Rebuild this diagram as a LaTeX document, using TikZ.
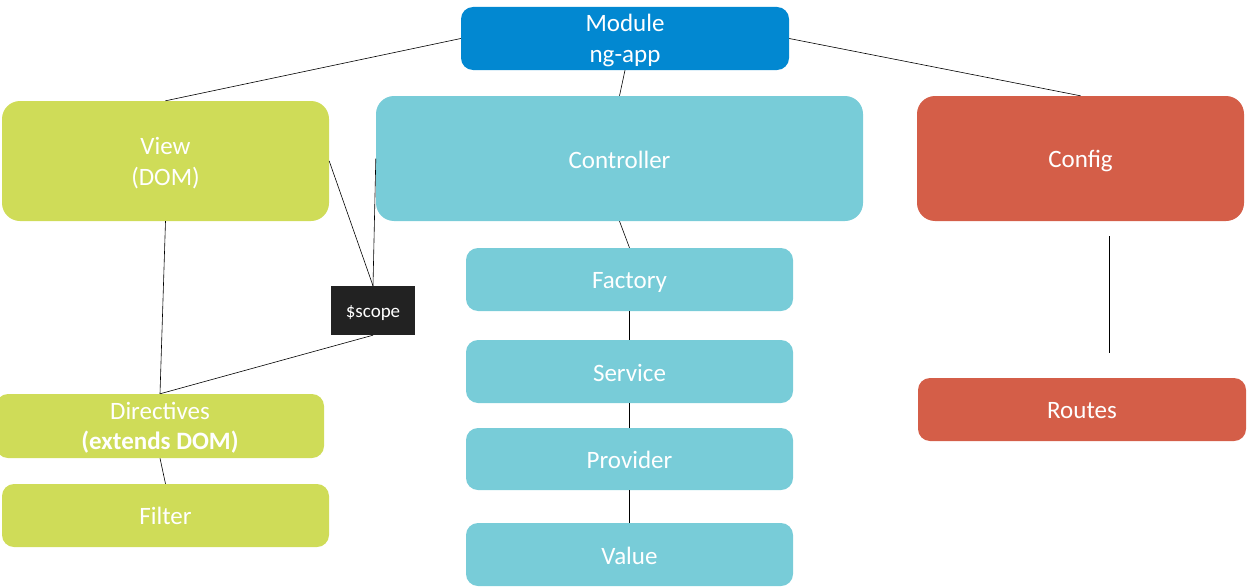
\documentclass[tikz,border=0pt]{standalone}
\usepackage{fontspec}
\setmainfont{Carlito}
\definecolor{modblue}{HTML}{0288D1}
\definecolor{vgreen}{HTML}{CFDC58}
\definecolor{cteal}{HTML}{78CCD8}
\definecolor{cred}{HTML}{D45E48}
\definecolor{sdark}{HTML}{222222}
\newcommand\lowr[2][2pt]{\raisebox{-#1}[\height][\depth]{#2}}
\begin{document}
\begin{tikzpicture}[x=1pt,y=-1pt,
  box/.style={rectangle,rounded corners=#1,inner sep=0pt,text=white,align=center,
    font=\fontsize{25}{31}\selectfont},
  box/.default=12pt,
  conn/.style={draw=black,line width=0.6pt}]
\useasboundingbox (0,0) rectangle (1252,586);
\begin{scope}
\clip (0,0) rectangle (1252,586);
\node[box, fill=modblue, minimum width=328pt, minimum height=63pt] (module) at (625,38.5) {\lowr{Module}\\\lowr{ng-app}};
\node[box=18pt, fill=vgreen, minimum width=327pt, minimum height=120pt] (view) at (165.5,161) {\lowr{View}\\\lowr{(DOM)}};
\node[box=18pt, fill=cteal, minimum width=487pt, minimum height=125pt] (ctrl) at (619.5,158.5) {\lowr[1.5pt]{Controller}};
\node[box=18pt, fill=cred, minimum width=327pt, minimum height=125pt] (config) at (1080.5,158.5) {\lowr[2.5pt]{Config}};
\node[box, fill=cteal, minimum width=327pt, minimum height=63pt] (factory) at (629.5,279.5) {\lowr[3pt]{Factory}};
\node[box, fill=cteal, minimum width=327pt, minimum height=63pt] (service) at (629.5,371.5) {\lowr[1.5pt]{Service}};
\node[box, fill=cteal, minimum width=327pt, minimum height=62pt] (provider) at (629.5,459) {\lowr[1pt]{Provider}};
\node[box, fill=cteal, minimum width=327pt, minimum height=63pt] (value) at (629.5,554.5) {\lowr[1pt]{Value}};
\node[rectangle, fill=sdark, text=white, inner sep=0pt, minimum width=84pt, minimum height=49pt,
  font=\fontsize{19}{22}\selectfont] (scope) at (373,310.5) {\lowr[2.5pt]{\$scope}};
\node[box, fill=vgreen, minimum width=328pt, minimum height=64pt, font=\fontsize{25}{30}\selectfont] (dir) at (160,426) {\lowr{Directives}\\\lowr{\textbf{(extends DOM)}}};
\node[box, fill=vgreen, minimum width=327pt, minimum height=63pt] (filter) at (165.5,515.5) {Filter};
\node[box, fill=cred, minimum width=328pt, minimum height=63pt] (routes) at (1082,409.5) {\lowr[1pt]{Routes}};
\coordinate (cr1) at (1109,236);
\coordinate (cr2) at (1109,353);
\end{scope}
\draw[conn] (module.west) -- (view.north);
\draw[conn] (module.east) -- (config.north);
\draw[conn] (module.south) -- (ctrl.north);
\draw[conn] (ctrl.south) -- (factory.north);
\draw[conn] (factory.south) -- (service.north);
\draw[conn] (service.south) -- (provider.north);
\draw[conn] (provider.south) -- (value.north);
\draw[conn] (view.east) -- (scope.north);
\draw[conn] (ctrl.west) -- (scope.north);
\draw[conn] (scope.south) -- (dir.north);
\draw[conn] (view.south) -- (dir.north);
\draw[conn] (dir.south) -- (filter.north);
\draw[conn] (cr1) -- (cr2);
\end{tikzpicture}
\end{document}
